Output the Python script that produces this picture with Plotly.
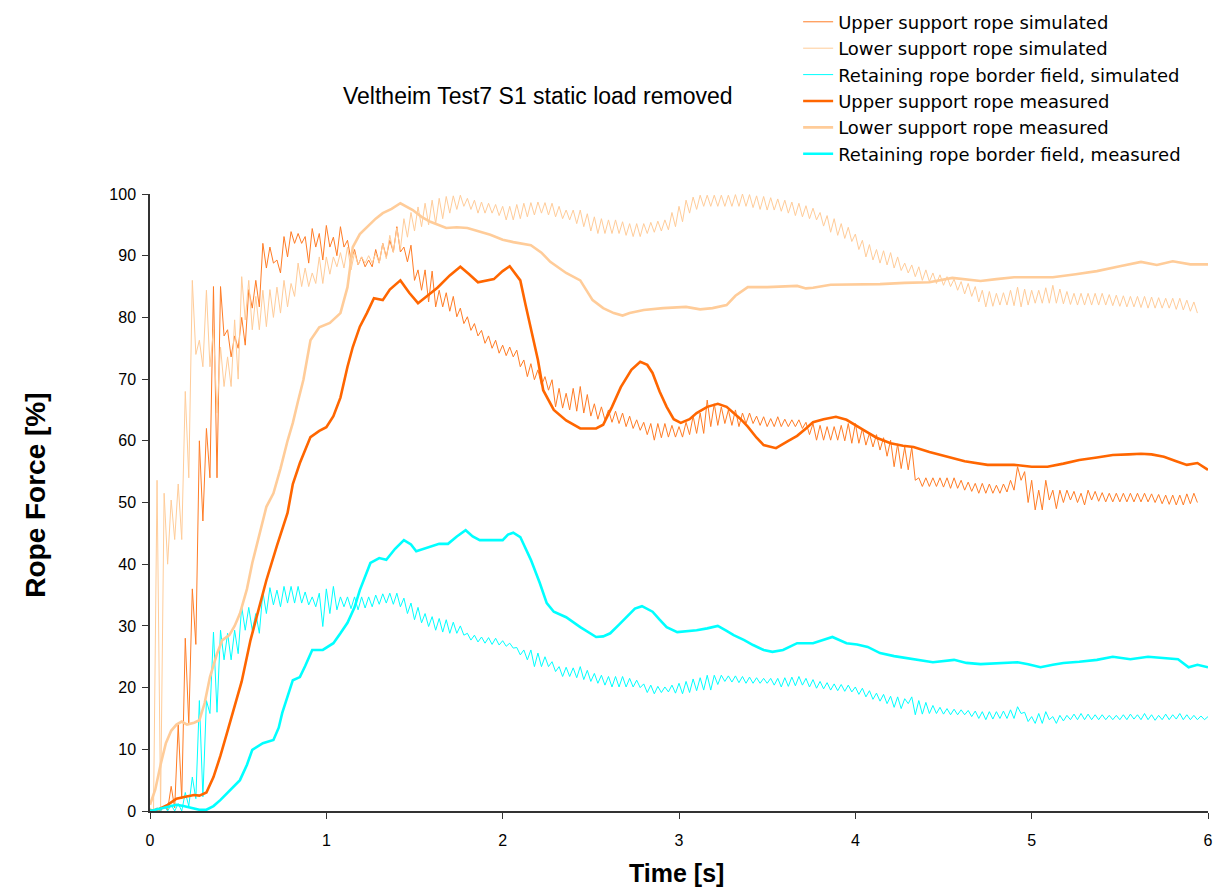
import numpy as np
import plotly.graph_objects as go

# ---------------- data ----------------
# simulated series: envelope peaks (hi) at t = 0.04*i, troughs (lo) at t = 0.04*i + 0.02
sim_dt = 0.04
upper_sim_hi = [0.3,0.5,0.8,4,14,28,36,60,62,85,
 85,78,77,80,84.5,86,92,91.4,89.3,93.1,
 93.9,93.6,93.1,94.4,93.6,94.9,93,94.7,92.5,91,
 89.8,89.3,91,92,92.5,94.7,91.4,91.7,87.7,87.7,
 87.5,84.4,84,83.4,81.5,80.1,79,77.9,77,76.3,
 75.5,75.2,74.7,73.1,72.5,71.5,70.4,69.9,68.5,67.7,
 68.5,68.8,67.5,66,65.5,65,64.8,64.5,64,63.4,
 63,62.8,62.8,62.8,62.5,62.3,63,64,64.5,66.6,
 66,65.5,65,65,64.5,64.5,64,63.9,63.6,63.9,
 63.5,63.4,63.4,63,62.8,62.5,62.3,62.3,62.5,62.8,
 62.8,62,61.2,61,60.5,60.1,59.5,59,59,54,
 54,54,54,54,54,53.6,53.3,53.1,53.1,53,
 52.8,53,53.6,55.8,55,53.6,52,53.6,52,52,
 52,51.8,51.5,52,51.8,51.6,51.5,51.5,51.5,51.5,
 51.5,51.5,51.4,51.3,51.2,51.2,51.2,51.4,51.5]
upper_sim_lo = [0,0,0.2,0.5,2,14,27,47,54,54,
 77,73.6,75,75.5,81.5,81.7,88,88.8,87.2,89.8,
 92,92,88.8,91.4,89.3,91.4,90,91.4,89.3,88.5,
 88.2,88.2,88.8,89.8,90.6,90.6,89,86,84.4,82.5,
 81.7,81.7,81,80.1,79,77.9,77,75.8,75,74.2,
 73.8,73.6,72,70.4,69.9,69,68.2,65.5,65.3,65,
 64.8,64.5,64,63.5,63.4,63,62.8,62.3,62,61.7,
 61,60.1,60.5,60.6,60.6,60.6,61,61.2,61.2,62.3,
 62.5,62.8,62.5,62.3,62.8,62.8,62.5,62.3,62.3,62.3,
 62.3,62.3,62,61,60.1,60.1,60.1,60.1,60,59.6,
 59.6,59.3,59,58.5,57.5,55.8,55.5,55.3,53.6,52.6,
 52.6,52.6,52.5,52.3,52.3,52,51.8,51.5,51.5,51.5,
 51.5,51.7,52,53.6,50,48.8,48.8,50.4,49,50,
 50.4,50,49.6,50.4,50.2,50.1,50.1,50.1,50.1,50.1,
 50.1,50.1,50,49.8,49.7,49.6,49.6,49.8,50]

lower_sim_hi = [0.5,53.6,51.5,50.4,53,68,86,76.3,84.4,78,
 75.2,73.6,79.6,86.6,86,83.4,84.4,84.5,84.9,86,
 85.5,88.8,88,87.2,89.8,89.8,89.8,90.5,91.4,90.5,
 89.8,90,90.4,92,93.3,94.5,96,97,97.9,98.5,
 99,99.3,99.6,99.7,99.8,99.3,99,98.7,98.5,98.3,
 98,98,98.3,98.5,98.6,98.7,98.6,98.5,98,97.4,
 97.4,97.4,96.8,96.3,96,95.8,95.8,95.5,95.2,95.2,
 95.2,95.4,95.6,95.8,97,98,99,99.5,99.8,99.8,
 99.8,99.8,99.8,99.9,100,99.9,99.7,99.6,99.4,99.2,
 99,98.7,98.5,98.1,97.7,97,96.5,96,95.2,94.6,
 93.5,92.5,91.8,91,90.8,90.5,89.8,88.8,88.5,88.2,
 87.7,87.2,86.9,86.6,86.2,85.8,85.5,85,84.4,84.2,
 83.9,84,84.4,84.9,84.6,84.4,84.4,84.8,85.2,84.6,
 84.2,83.9,83.9,83.9,83.9,83.9,83.7,83.6,83.5,83.4,
 83.4,83.4,83.3,83.2,83.1,83.1,83.1,82.8,82.5]
lower_sim_lo = [0,0.5,40,44,44,54,74,72,72,64.5,
 68.8,68.8,70,79.6,78,78,78.5,80,80.7,81.7,
 83.4,85,85,85.5,85.5,87,88.2,88,87.7,88.5,
 88.8,88.8,88.8,89.5,90.5,91,93,94,94.7,95,
 95.2,96,96.9,97.5,98,97.5,96.9,96.9,96.9,96.5,
 95.8,95.8,96,96.3,96.6,96.9,96.6,96.3,96,95.8,
 95.2,94.7,94,93.6,93.6,93.6,93.6,93.3,93.1,93.1,
 93.6,93.8,94,94.2,94.7,95.5,96.9,97.5,98,98,
 98,98,98,98,98,97.8,97.5,97.4,97.4,97.2,
 96.9,96.5,96.3,96,95.8,94.8,93.8,93.3,92.8,92.3,
 91,89.8,89.3,88.8,88.5,88,87.6,87.2,86.6,86,
 85.8,85.5,85.2,85,84.4,83.8,83.4,82.5,81.7,81.8,
 82,82,81.9,81.7,82,82.3,82.3,82.3,82.3,82.2,
 82.1,82,82,82,82,82,81.9,81.8,81.7,81.7,
 81.6,81.5,81.5,81.5,81.5,81.3,81.2,81,80.7]

retain_sim_hi = [0.3,0.5,0.8,1,1.2,3,5.5,17.9,17.9,29,
 29.3,28.8,29.3,33.1,33,32,35.5,36.2,35.8,36.4,
 36.4,36.4,35.5,34.7,35.3,36,36.4,34.7,34.7,34.7,
 34.7,34.7,35,35.2,35.3,35.3,34.5,33.7,33,32,
 31.5,31.2,31,30.6,30,28.8,28.5,28.2,28.1,28,
 27.6,27.2,26.5,26.1,26.1,25.6,25,24.2,23.4,23.3,
 23.2,23.4,22.8,22.3,22,21.8,21.8,21.8,21.5,21.2,
 20.6,20.4,20.2,20.1,20.4,20.7,21,21.4,21.6,22,
 22,22,21.9,21.9,21.8,21.7,21.6,21.5,21.5,21.5,
 21.6,21.7,21.8,21.5,21.3,21,20.8,20.6,20.5,20.4,
 20.1,19.9,19.5,19.1,18.9,18.6,18.5,18.2,18.5,17.9,
 17.6,17.1,16.8,16.6,16.5,16.4,16.3,16.2,16.1,16.1,
 16.1,16.2,16.4,16.9,16,15.3,15.8,16.1,15.3,15.5,
 15.5,15.7,15.8,15.7,15.6,15.6,15.5,15.5,15.6,15.7,
 15.6,15.8,15.6,15.5,15.7,15.6,15.8,15.6,15.5,15.4,
 15.3]
retain_sim_lo = [0,0,0,0,0,0.8,2,2.3,15.8,16,
 24.5,24.5,25.5,29.3,29.3,28.8,32,33.4,33.1,33.7,
 33.7,33.7,33.4,33.1,29.9,32,32.6,33.1,32.8,32.6,
 32.9,33.1,33.5,33.7,33.5,33.1,32,31,30.5,29.9,
 29.3,29,28.8,28.8,28.5,27.7,27.4,27.2,27,26.9,
 26.7,26.4,25.3,24.5,23.4,23.4,23.4,22.6,21.8,21.8,
 21.6,21.3,21,20.7,20.4,20.1,20.1,20.1,20.1,20,
 19.2,19,19.2,19.3,19.1,19,19.2,19.5,19.6,19.6,
 20.5,21,20.9,20.8,20.7,20.7,20.7,20.7,20.4,20.1,
 20.2,20.3,20.4,20.1,19.9,19.8,19.6,19.5,19.4,19.3,
 18.9,18.5,18.1,17.8,17.4,16.8,16.6,17.4,15.6,15.7,
 15.8,15.8,15.7,15.6,15.6,15.6,15.3,15,14.8,14.9,
 15,15,15,15.8,14.5,14.2,14.2,14.8,14.2,14.6,
 14.8,14.8,14.8,14.8,14.8,14.8,14.8,14.8,14.8,14.9,
 14.8,14.8,14.7,14.8,14.8,14.9,14.8,14.8,14.8,14.8,
 14.8]

# measured series
upper_meas_t = [0,0.05,0.10,0.15,0.20,0.25,0.28,0.32,0.36,0.40,0.44,0.47,0.52,0.57,0.62,0.66,0.72,0.78,0.81,0.85,
 0.91,0.96,1.0,1.04,1.08,1.12,1.15,1.19,1.23,1.27,1.32,1.36,1.42,1.47,1.52,1.57,1.63,1.70,1.76,1.81,
 1.86,1.95,2.00,2.04,2.10,2.13,2.16,2.20,2.23,2.29,2.36,2.44,2.53,2.57,2.62,2.67,2.73,2.78,2.82,2.85,
 2.89,2.93,2.97,3.01,3.06,3.10,3.16,3.22,3.27,3.31,3.35,3.39,3.44,3.48,3.55,3.62,3.67,3.72,3.76,3.82,
 3.89,3.95,4.0,4.05,4.12,4.20,4.27,4.33,4.42,4.52,4.62,4.75,4.90,5.00,5.09,5.18,5.27,5.37,5.46,5.55,
 5.62,5.68,5.75,5.82,5.88,5.94,6.0]
upper_meas = [0,0.3,1.0,2.0,2.3,2.6,2.5,3.0,5.5,9,13,15.9,21,27.7,33,37.4,43,48.3,53,56.4,
 60.6,61.6,62.2,64,67,72,75.2,78.5,80.7,83.1,82.8,84.5,86,84,82.3,83.5,84.8,86.8,88.2,87,
 85.7,86.2,87.5,88.3,86,82,78,73.1,68.2,65,63.3,62,62,62.6,65.5,68.7,71.5,72.8,72.3,71,
 68,65.5,63.5,62.9,63.5,64.5,65.5,66,65.5,64.5,63.5,62.3,60.5,59.3,58.8,60,60.8,62,63,63.5,
 63.9,63.4,62.6,61.7,60.5,59.6,59.2,59,58.2,57.4,56.7,56.1,56.1,55.8,55.8,56.3,56.9,57.3,57.7,57.8,
 57.9,57.8,57.4,56.7,56.1,56.4,55.3]

lower_meas_t = [0,0.03,0.06,0.09,0.12,0.15,0.18,0.21,0.25,0.28,0.31,0.34,0.38,0.41,0.45,0.48,0.51,0.55,0.58,0.62,
 0.66,0.70,0.74,0.78,0.81,0.84,0.87,0.91,0.96,1.02,1.08,1.12,1.15,1.19,1.23,1.28,1.32,1.37,1.42,1.49,
 1.54,1.59,1.68,1.74,1.80,1.87,1.93,2.0,2.06,2.16,2.22,2.27,2.32,2.36,2.44,2.51,2.57,2.63,2.68,2.72,
 2.80,2.91,3.04,3.12,3.19,3.27,3.32,3.39,3.50,3.60,3.67,3.72,3.76,3.86,4.0,4.14,4.28,4.42,4.55,4.63,
 4.71,4.80,4.90,5.0,5.12,5.25,5.37,5.50,5.62,5.71,5.80,5.90,6.0]
lower_meas = [1.0,3.5,7.5,11,13,14,14.5,14,14.3,14.7,17.5,21.7,25.5,27.7,28.5,30,32,36,40.2,45,
 49.3,51.5,55.5,60,62.9,66.5,69.9,76.3,78.4,79.1,80.7,84.9,91.4,93.5,94.6,96,96.9,97.6,98.5,97.4,
 96.3,95.5,94.5,94.6,94.5,93.9,93.4,92.6,92.2,91.7,90.5,89,88,87.2,86,82.8,81.5,80.7,80.3,80.7,
 81.2,81.5,81.7,81.3,81.5,82,83.5,84.9,84.9,85,85.1,84.7,84.8,85.3,85.3,85.4,85.6,85.7,86.4,86.1,
 85.9,86.2,86.5,86.5,86.5,87,87.5,88.3,89,88.5,89.1,88.6,88.6]

retain_meas_t = [0,0.05,0.10,0.15,0.19,0.23,0.28,0.32,0.36,0.40,0.45,0.51,0.55,0.58,0.64,0.70,0.73,0.75,0.81,0.85,
 0.88,0.92,0.98,1.04,1.08,1.12,1.16,1.19,1.25,1.30,1.34,1.39,1.44,1.48,1.51,1.58,1.64,1.69,1.74,1.79,
 1.83,1.87,2.0,2.03,2.06,2.10,2.13,2.16,2.21,2.25,2.29,2.36,2.44,2.53,2.57,2.61,2.66,2.70,2.75,2.79,
 2.85,2.89,2.93,2.99,3.10,3.16,3.22,3.27,3.31,3.37,3.42,3.48,3.53,3.59,3.67,3.76,3.82,3.87,3.95,4.01,
 4.07,4.14,4.22,4.29,4.37,4.44,4.56,4.63,4.71,4.82,4.92,4.98,5.05,5.12,5.18,5.27,5.37,5.46,5.56,5.66,
 5.75,5.83,5.89,5.94,6.0]
retain_meas = [0,0.3,0.7,1.0,0.8,0.5,0.2,0.2,0.8,1.8,3.2,5.0,7.5,9.9,11,11.5,13.5,15.9,21.2,21.7,
 23.5,26.1,26.1,27.2,28.8,30.5,33,35.8,40.2,41,40.7,42.5,43.9,43.2,42.1,42.8,43.3,43.3,44.5,45.5,
 44.5,43.9,43.9,44.8,45.1,44.4,42.5,40.7,37,33.7,32.3,31.4,29.8,28.2,28.3,28.8,30.2,31.4,32.8,33.2,
 32.3,31,29.8,29,29.3,29.6,30,29.2,28.5,27.7,26.9,26.1,25.8,26.1,27.2,27.2,27.8,28.2,27.2,27,
 26.6,25.6,25.1,24.8,24.4,24.1,24.5,24,23.8,24,24.1,23.8,23.3,23.7,24,24.2,24.5,25,24.6,25,
 24.8,24.6,23.3,23.7,23.3]

names = ["Upper support rope simulated", "Lower support rope simulated",
         "Retaining rope border field, simulated", "Upper support rope measured",
         "Lower support rope measured", "Retaining rope border field, measured"]

C_UP, C_LO, C_RT = "#FF6600", "#FFCC99", "#00FFFF"


def zigzag(hi, lo):
    xs, ys = [], []
    for i, (h, l) in enumerate(zip(hi, lo)):
        t = i * sim_dt
        xs += [t, t + sim_dt / 2]
        ys += [h, l]
    return xs, ys


fig = go.Figure()
for (hi, lo), name, col, op in [((upper_sim_hi, upper_sim_lo), names[0], C_UP, 0.85),
                                ((lower_sim_hi, lower_sim_lo), names[1], C_LO, 1.0),
                                ((retain_sim_hi, retain_sim_lo), names[2], C_RT, 1.0)]:
    xs, ys = zigzag(hi, lo)
    fig.add_trace(go.Scatter(x=xs, y=ys, mode="lines", name=name, opacity=op,
                             line=dict(color=col, width=1)))

for t, v, name, col in [(upper_meas_t, upper_meas, names[3], C_UP),
                        (lower_meas_t, lower_meas, names[4], C_LO),
                        (retain_meas_t, retain_meas, names[5], C_RT)]:
    fig.add_trace(go.Scatter(x=t, y=v, mode="lines", name=name,
                             line=dict(color=col, width=2.6)))

FONT = "Liberation Sans, Arial, sans-serif"
LEGFONT = "DejaVu Sans, sans-serif"
fig.update_layout(
    width=1222, height=892,
    margin=dict(l=150, r=14, t=194, b=81, autoexpand=False),
    paper_bgcolor="white", plot_bgcolor="white",
    showlegend=True,
    legend=dict(x=0.6126, y=1.3086, xanchor="left", yanchor="top",
                font=dict(family=LEGFONT, size=18, color="black"),
                bgcolor="rgba(0,0,0,0)", tracegroupgap=0, itemwidth=30),
    xaxis=dict(range=[0, 6], tickvals=[0, 1, 2, 3, 4, 5, 6], ticks="outside", ticklen=6,
               tickcolor="#333", showline=True, linecolor="#333", linewidth=1.5,
               showgrid=False, zeroline=False, ticklabelstandoff=8,
               tickfont=dict(family=FONT, size=16, color="black")),
    yaxis=dict(range=[0, 100], tickvals=list(range(0, 101, 10)), ticks="outside", ticklen=6,
               tickcolor="#333", showline=True, linecolor="#333", linewidth=1.5,
               showgrid=False, zeroline=False, ticklabelstandoff=3,
               tickfont=dict(family=FONT, size=16, color="black")),
    annotations=[
        dict(text="Veltheim Test7 S1 static load removed", xref="paper", yref="paper",
             x=0.367, y=1.159, showarrow=False, xanchor="center", yanchor="middle",
             font=dict(family=FONT, size=23, color="black")),
        dict(text="<b>Rope Force [%]</b>", xref="paper", yref="paper", x=-0.109, y=0.512,
             textangle=-90, showarrow=False, xanchor="center", yanchor="middle",
             font=dict(family=FONT, size=28, color="black")),
        dict(text="<b>Time [s]</b>", xref="paper", yref="paper", x=0.498, y=-0.1,
             showarrow=False, xanchor="center", yanchor="middle",
             font=dict(family=FONT, size=25, color="black")),
    ],
)

fig.write_html("out.html")
